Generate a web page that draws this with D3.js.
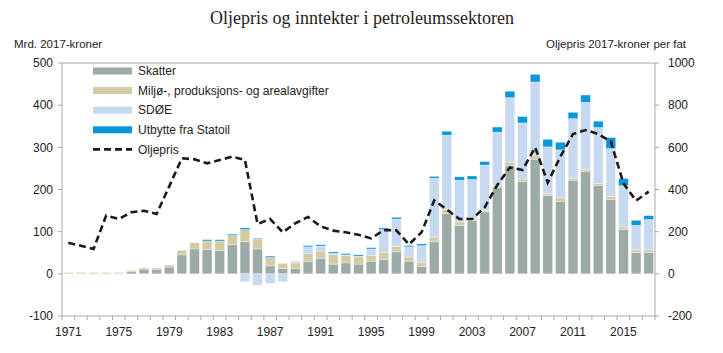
<!DOCTYPE html>
<html>
<head>
<meta charset="utf-8">
<script src="https://cdn.jsdelivr.net/npm/d3@7"></script>
<style>
  body { margin: 0; background: #fff; }
  text { font-family: "Liberation Sans", Arial, sans-serif; fill: #222; }
</style>
</head>
<body>
<div id="chart"></div>
<script>
var years = d3.range(1971, 2018);

// mrd. 2017-kroner
var skatter = [0,0,0,0,0,5,11,11,16,45,59,58,55,70,76,59,19,13,13,30,37,23,26,23,30,34,52,30,17,76,
  143,115,126,147,204,256,219,272,186,172,222,243,210,176,105,51,51];
var miljo = [3,3,3,3,3,3,3,3,5,11,15,20,23,21,29,23,20,12,13,18,17,22,17,17,14,17,13,10,10,11,
  10,8,5,3,6,9,6,8,4,8,5,5,4,8,6,6,6];
var sdoe = [0,0,0,0,0,0,0,0,0,0,0,0,0,0,-19,-27,-23,-19,4,16,12,4,2,2,15,54,65,24,40,140,
  176,99,93,108,126,153,133,175,111,114,141,159,133,113,98,58,72];
var utbytte = [0,0,0,0,0,0,0,0,0,0,0,3,3,3,4,2,3,0,0,3,3,3,3,3,3,4,4,3,4,4,
  9,8,8,8,12,15,15,18,18,18,15,17,15,26,17,12,9];
// kroner per fat
var oljepris = [147,133,118,276,260,292,299,284,415,548,543,524,540,556,540,236,260,197,240,270,225,205,197,185,168,207,206,140,197,348,
  305,260,260,315,421,505,492,600,432,556,663,682,663,627,429,347,390];

var leftTicks = [-100, 0, 100, 200, 300, 400, 500];
var rightTicks = [-200, 0, 200, 400, 600, 800, 1000];
var yearLabels = [1971, 1975, 1979, 1983, 1987, 1991, 1995, 1999, 2003, 2007, 2011, 2015];

var series = [
  {key: "skatter", name: "Skatter", color: "#9caba7", values: skatter},
  {key: "miljo", name: "Miljø-, produksjons- og arealavgifter", color: "#d5cba2", values: miljo},
  {key: "sdoe", name: "SDØE", color: "#c7d9f0", values: sdoe},
  {key: "utbytte", name: "Utbytte fra Statoil", color: "#0a96d8", values: utbytte}
];

var width = 723, height = 353;
var plot = {left: 62, right: 655, top: 63, bottom: 316};
var axisColor = "#a9a9a9";

var svg = d3.select("#chart")
  .append("svg")
    .attr("width", width)
    .attr("height", height);

var x = d3.scaleBand()
  .domain(years)
  .range([plot.left, plot.right])
  .paddingInner(0.23)
  .paddingOuter(0.115);

var y = d3.scaleLinear().domain([-100, 500]).range([plot.bottom, plot.top]);
var yR = d3.scaleLinear().domain([-200, 1000]).range([plot.bottom, plot.top]);

// table for the stack
var table = years.map(function(yr, i) {
  var row = {year: yr};
  series.forEach(function(s) { row[s.key] = s.values[i]; });
  return row;
});

var stacked = d3.stack()
  .keys(series.map(function(s) { return s.key; }))
  .offset(d3.stackOffsetDiverging)(table);

// frame
svg.append("line")
  .attr("x1", plot.left).attr("x2", plot.right)
  .attr("y1", plot.top).attr("y2", plot.top)
  .attr("stroke", axisColor);

// left axis
var gl = svg.append("g").attr("transform", "translate(" + plot.left + ",0)");
gl.append("line").attr("y1", plot.top).attr("y2", plot.bottom).attr("stroke", axisColor);
gl.selectAll(".tk").data(leftTicks).enter().append("line")
  .attr("x1", -4).attr("x2", 0)
  .attr("y1", function(d) { return y(d); })
  .attr("y2", function(d) { return y(d); })
  .attr("stroke", axisColor);
gl.selectAll("text").data(leftTicks).enter().append("text")
  .attr("x", -9)
  .attr("y", function(d) { return y(d); })
  .attr("dy", "0.35em")
  .attr("text-anchor", "end")
  .attr("font-size", 12)
  .text(function(d) { return d; });

// right axis
var gr = svg.append("g").attr("transform", "translate(" + plot.right + ",0)");
gr.append("line").attr("y1", plot.top).attr("y2", plot.bottom).attr("stroke", axisColor);
gr.selectAll(".tk").data(rightTicks).enter().append("line")
  .attr("x1", 0).attr("x2", 4)
  .attr("y1", function(d) { return yR(d); })
  .attr("y2", function(d) { return yR(d); })
  .attr("stroke", axisColor);
gr.selectAll("text").data(rightTicks).enter().append("text")
  .attr("x", 13)
  .attr("y", function(d) { return yR(d); })
  .attr("dy", "0.35em")
  .attr("font-size", 12)
  .text(function(d) { return d; });

// bottom axis, ticks between years
var step = x.step();
var gb = svg.append("g").attr("transform", "translate(0," + plot.bottom + ")");
gb.append("line").attr("x1", plot.left).attr("x2", plot.right).attr("stroke", axisColor);
gb.selectAll(".tk").data(d3.range(years.length + 1)).enter().append("line")
  .attr("x1", function(i) { return plot.left + i * step; })
  .attr("x2", function(i) { return plot.left + i * step; })
  .attr("y1", 0).attr("y2", 4)
  .attr("stroke", axisColor);
gb.selectAll("text").data(yearLabels).enter().append("text")
  .attr("x", function(d) { return x(d) + x.bandwidth() / 2; })
  .attr("y", 20)
  .attr("text-anchor", "middle")
  .attr("font-size", 12)
  .text(function(d) { return d; });

// bars
var layers = svg.append("g").selectAll("g")
  .data(stacked)
  .enter().append("g")
    .attr("fill", function(d, i) { return series[i].color; });

layers.selectAll("rect")
  .data(function(d) { return d; })
  .enter().append("rect")
    .filter(function(d) { return d[1] !== d[0]; })
    .attr("x", function(d) { return x(d.data.year); })
    .attr("width", x.bandwidth())
    .attr("y", function(d) { return y(Math.max(d[0], d[1])); })
    .attr("height", function(d) { return Math.abs(y(d[0]) - y(d[1])); })
    .attr("stroke", "#ffffff")
    .attr("stroke-opacity", 0.5)
    .attr("stroke-width", 0.6);

// oil price line
var line = d3.line()
  .x(function(d, i) { return x(years[i]) + x.bandwidth() / 2; })
  .y(function(d) { return yR(d); });

svg.append("path")
  .datum(oljepris)
  .attr("d", line)
  .attr("fill", "none")
  .attr("stroke", "#1b1b1b")
  .attr("stroke-width", 2.6)
  .attr("stroke-dasharray", "7,4");

// legend
var legend = svg.append("g").attr("transform", "translate(93,71)");
series.forEach(function(s, i) {
  legend.append("rect")
    .attr("x", 0).attr("y", i * 19.6 - 3.5)
    .attr("width", 39).attr("height", 7)
    .attr("fill", s.color);
  legend.append("text")
    .attr("x", 45).attr("y", i * 19.6)
    .attr("dy", "0.35em")
    .attr("font-size", 12)
    .text(s.name);
});
legend.append("line")
  .attr("x1", 0).attr("x2", 39)
  .attr("y1", 4 * 19.6).attr("y2", 4 * 19.6)
  .attr("stroke", "#1b1b1b")
  .attr("stroke-width", 2.6)
  .attr("stroke-dasharray", "7,4");
legend.append("text")
  .attr("x", 45).attr("y", 4 * 19.6)
  .attr("dy", "0.35em")
  .attr("font-size", 12)
  .text("Oljepris");

// titles
svg.append("text")
  .attr("x", 362).attr("y", 24)
  .attr("text-anchor", "middle")
  .style("font-family", "'Liberation Serif', 'Times New Roman', serif")
  .attr("font-size", 18)
  .text("Oljepris og inntekter i petroleumssektoren");

svg.append("text")
  .attr("x", 14).attr("y", 48)
  .attr("font-size", 11.5)
  .text("Mrd. 2017-kroner");

svg.append("text")
  .attr("x", 686).attr("y", 48)
  .attr("text-anchor", "end")
  .attr("font-size", 11.5)
  .text("Oljepris 2017-kroner per fat");
</script>
</body>
</html>
